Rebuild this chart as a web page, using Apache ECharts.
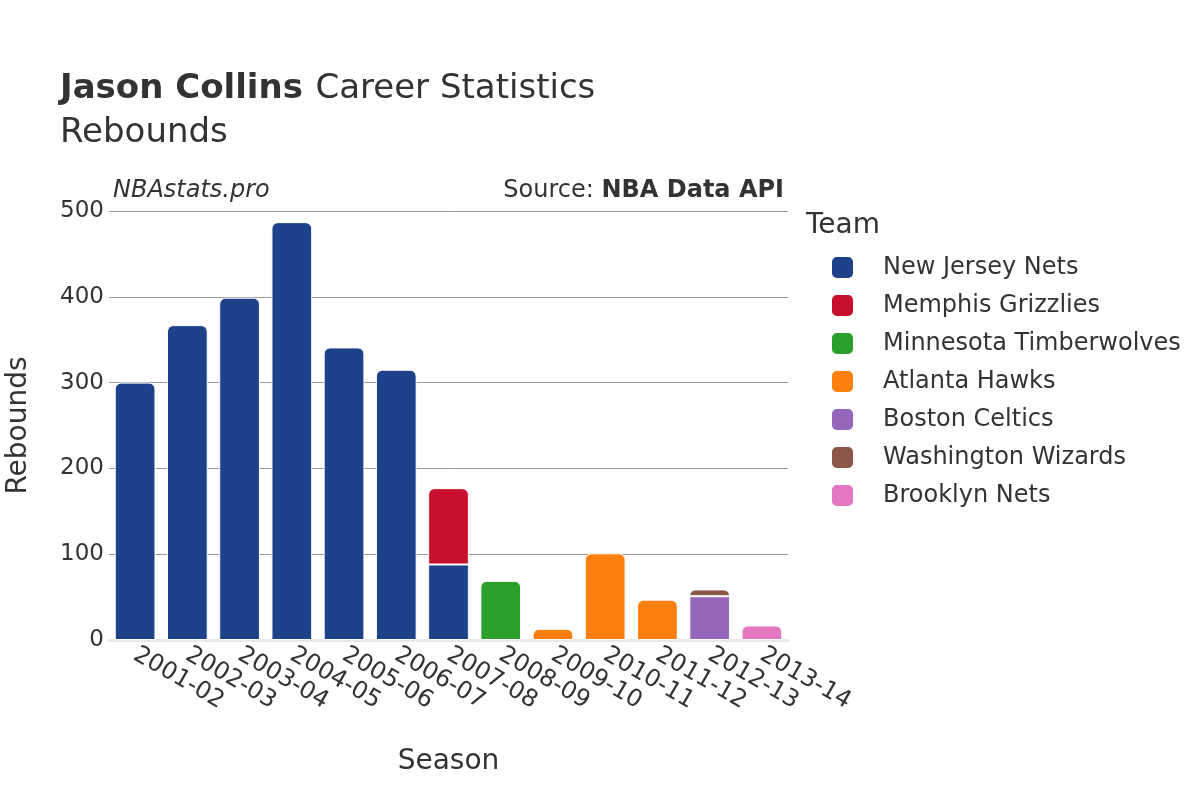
<!DOCTYPE html>
<html>
<head>
<meta charset="utf-8">
<script src="https://cdn.jsdelivr.net/npm/echarts@6/dist/echarts.min.js"></script>
<style>html,body{margin:0;padding:0;background:#fff}#c{width:1200px;height:800px}</style>
</head>
<body>
<div id="c"></div>
<script>
const seasons = ['2001-02','2002-03','2003-04','2004-05','2005-06','2006-07','2007-08','2008-09','2009-10','2010-11','2011-12','2012-13','2013-14'];
const teams = ['New Jersey Nets','Memphis Grizzlies','Minnesota Timberwolves','Atlanta Hawks','Boston Celtics','Washington Wizards','Brooklyn Nets'];
const newJerseyNets = [300,367,399,487,341,315,88,null,null,null,null,null,null];
const memphisGrizzlies = [null,null,null,null,null,null,89,null,null,null,null,null,null];
const minnesotaTimberwolves = [null,null,null,null,null,null,null,69,null,null,null,null,null];
const atlantaHawks = [null,null,null,null,null,null,null,null,13,101,47,null,null];
const bostonCeltics = [null,null,null,null,null,null,null,null,null,null,null,51,null];
const washingtonWizards = [null,null,null,null,null,null,null,null,null,null,null,8,null];
const brooklynNets = [null,null,null,null,null,null,null,null,null,null,null,null,17];
const yTicks = [0,100,200,300,400,500];

const seriesValues = [newJerseyNets,memphisGrizzlies,minnesotaTimberwolves,atlantaHawks,bostonCeltics,washingtonWizards,brooklynNets];
const colors = ['#1d428a','#c8102e','#2ca02c','#ff7f0e','#9467bd','#8c564b','#e377c2'];
const FONT = 'DejaVu Sans';

// top-most series per category gets rounded corners
const topIdx = seasons.map((_, i) => {
  let t = -1;
  seriesValues.forEach((arr, s) => { if (arr[i] != null && arr[i] > 0) t = s; });
  return t;
});

const series = teams.map((name, s) => ({
  name, type: 'bar', stack: 'total', barCategoryGap: '22%',
  itemStyle: { color: colors[s], borderColor: '#fff', borderWidth: 1 },
  emphasis: { disabled: true },
  data: seriesValues[s].map((v, i) => v == null ? null : ({
    value: v,
    itemStyle: { borderRadius: topIdx[i] === s ? [6,6,0,0] : 0 }
  }))
}));

const chart = echarts.init(document.getElementById('c'), null, { renderer: 'canvas' });
chart.setOption({
  animation: false,
  backgroundColor: '#fff',
  textStyle: { fontFamily: FONT },
  title: {
    left: 55, top: 62, padding: 5,
    text: '{b|Jason Collins}  {n|Career Statistics}\n{n|Rebounds}',
    textStyle: {
      rich: {
        b: { fontFamily: FONT, fontSize: 34, fontWeight: 'bold', color: '#333', lineHeight: 44 },
        n: { fontFamily: FONT, fontSize: 34, fontWeight: 'normal', color: '#333', lineHeight: 44 }
      }
    }
  },
  graphic: [
    { type: 'text', left: 113, top: 179, style: { text: 'NBAstats.pro', font: 'italic 24px "DejaVu Sans"', fill: '#333' } },
    { type: 'text', right: 416, top: 179, style: { text: '{n|Source: }{b|NBA Data API}', rich: {
      n: { fontFamily: FONT, fontSize: 24, fill: '#333', color: '#333' },
      b: { fontFamily: FONT, fontSize: 24, fontWeight: 'bold', fill: '#333', color: '#333' } } } },
    { type: 'text', left: 806, top: 212, style: { text: 'Team', font: '28px "DejaVu Sans"', fill: '#333' } }
  ],
  legend: {
    orient: 'vertical', left: 830, top: 255, padding: 0,
    itemWidth: 23, itemHeight: 23, itemGap: 13, icon: 'roundRect',
    textStyle: { fontFamily: FONT, fontSize: 24, color: '#333', padding: [0,0,0,24], lineHeight: 23, height: 23 },
    data: teams
  },
  grid: { left: 109, right: 412, top: 211, bottom: 160, outerBoundsMode: 'none', containLabel: false },
  xAxis: {
    type: 'category', data: seasons,
    name: 'Season', nameLocation: 'middle', nameGap: 108,
    nameTextStyle: { fontFamily: FONT, fontSize: 28, color: '#333' },
    axisLine: { show: true, lineStyle: { color: '#e8e8e8', width: 3 } },
    axisTick: { show: false },
    axisLabel: { rotate: -30, fontFamily: FONT, fontSize: 24, color: '#333', margin: 13, interval: 0 }
  },
  yAxis: {
    type: 'value', min: yTicks[0], max: yTicks[yTicks.length-1], interval: 100,
    name: 'Rebounds', nameLocation: 'middle', nameGap: 76,
    nameTextStyle: { fontFamily: FONT, fontSize: 28, color: '#333' },
    axisLine: { show: false }, axisTick: { show: false },
    axisLabel: { fontFamily: FONT, fontSize: 23, color: '#333', margin: 5 },
    splitLine: { lineStyle: { color: '#999', width: 1 } }
  },
  series
});
</script>
</body>
</html>
